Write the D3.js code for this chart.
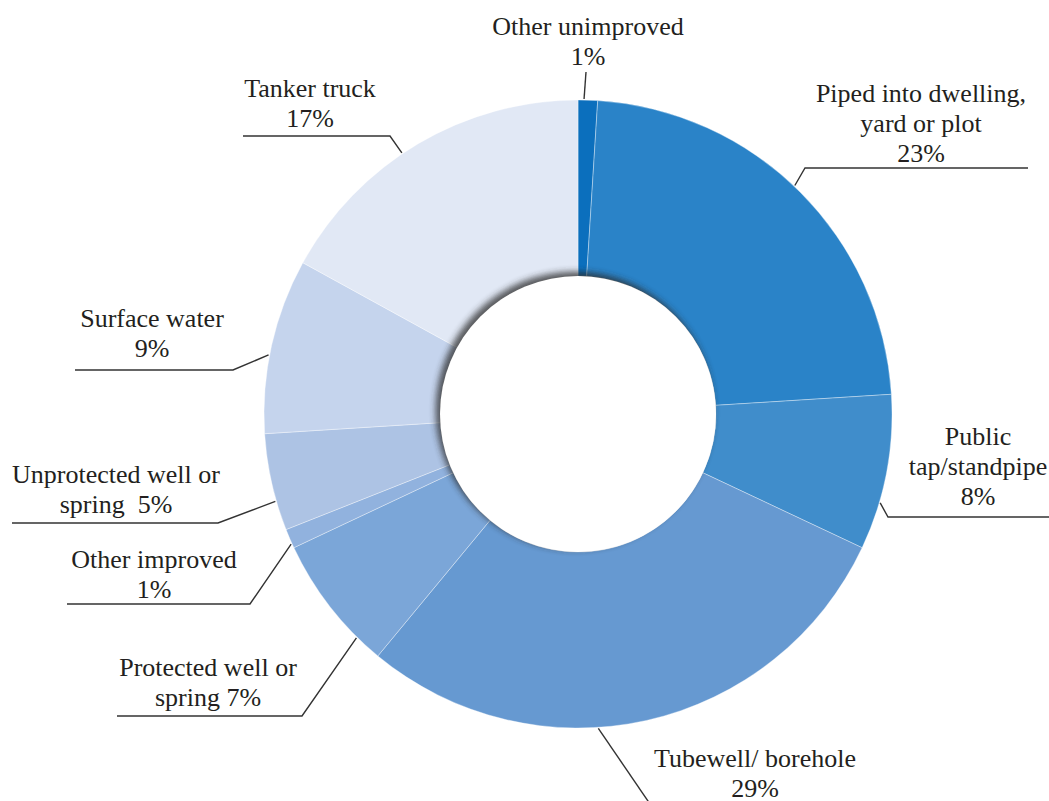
<!DOCTYPE html>
<html>
<head>
<meta charset="utf-8">
<script src="https://cdn.jsdelivr.net/npm/d3@7/dist/d3.min.js"></script>
<style>
  html, body { margin: 0; padding: 0; background: #ffffff; }
  svg { display: block; }
</style>
</head>
<body>
<svg id="chart" width="1049" height="801"></svg>
<script>
// Main source of drinking water (% of households)
const categories = [
  "Other unimproved",
  "Piped into dwelling, yard or plot",
  "Public tap/standpipe",
  "Tubewell/ borehole",
  "Protected well or spring",
  "Other improved",
  "Unprotected well or spring",
  "Surface water",
  "Tanker truck"
];
const values = [1, 23, 8, 29, 7, 1, 5, 9, 17];
const colors = ["#0b6fbd", "#2a83c8", "#408dcb", "#6699d1", "#7ba6d8", "#91b2de", "#adc3e4", "#c5d4ed", "#e1e8f5"];

// Label text, one entry per line; {p} becomes the slice percentage
const labelText = [
  ["Other unimproved", "{p}"],
  ["Piped into dwelling,", "yard or plot", "{p}"],
  ["Public", "tap/standpipe", "{p}"],
  ["Tubewell/ borehole", "{p}"],
  ["Protected well or", "spring {p}"],
  ["Other improved", "{p}"],
  ["Unprotected well or", "spring\u00a0\u00a0{p}"],
  ["Surface water", "{p}"],
  ["Tanker truck", "{p}"]
];

// Label placement: text centre x, first baseline y, leader line (shelf + elbow), anchor angle shift on the rim (deg)
const labelLayout = [
  { x: 588, y: 35,  shelf: null,        elbow: [586, 72],  shift: -0.7 },
  { x: 921, y: 102, shelf: [1028, 168], elbow: [805, 168], shift: -1.5 },
  { x: 978, y: 445, shelf: [1049, 517], elbow: [888, 517], shift: 5.6 },
  { x: 755, y: 767, shelf: null,        elbow: [650, 804], shift: 8.9 },
  { x: 208, y: 676, shelf: [117, 716],  elbow: [302, 716], shift: -7.5 },
  { x: 154, y: 568, shelf: [67, 604],   elbow: [250, 604], shift: -1.0 },
  { x: 116, y: 483, shelf: [12, 523],   elbow: [218, 523], shift: -3.5 },
  { x: 152, y: 327, shelf: [75, 370],   elbow: [233, 370], shift: -1.8 },
  { x: 310, y: 97,  shelf: [243, 136],  elbow: [390, 136], shift: -3.4 }
];

const cx = 578, cy = 414;
const outerR = 314, innerR = 138;
const lineH = 30;
const fontStack = "'Liberation Serif', 'Times New Roman', serif";

const svg = d3.select("#chart");

const defs = svg.append("defs");
const blur = defs.append("filter").attr("id", "holeShadow")
  .attr("x", "-20%").attr("y", "-20%").attr("width", "140%").attr("height", "140%");
blur.append("feGaussianBlur").attr("stdDeviation", 3.2);
defs.append("clipPath").attr("id", "ringClip")
  .append("circle").attr("cx", cx).attr("cy", cy).attr("r", outerR);

const pie = d3.pie().sort(null).value(d => d).startAngle(0).endAngle(2 * Math.PI);
const arcs = pie(values);
const arc = d3.arc().innerRadius(innerR).outerRadius(outerR);

const g = svg.append("g").attr("transform", `translate(${cx},${cy})`);

g.selectAll("path.slice")
  .data(arcs)
  .join("path")
  .attr("class", "slice")
  .attr("d", arc)
  .attr("fill", (d, i) => colors[i])
  .attr("stroke", "rgba(255,255,255,0.45)")
  .attr("stroke-width", 0.8);

// soft shadow around the hole, then the hole itself
const shade = svg.append("g").attr("clip-path", "url(#ringClip)");
shade.append("circle")
  .attr("cx", cx - 3.5).attr("cy", cy - 3.5).attr("r", innerR + 1)
  .attr("fill", "#2b2b2b").attr("opacity", 0.75)
  .attr("filter", "url(#holeShadow)");
svg.append("circle").attr("cx", cx).attr("cy", cy).attr("r", innerR).attr("fill", "#ffffff");

// leader lines
const leaders = svg.append("g")
  .attr("fill", "none").attr("stroke", "#333333").attr("stroke-width", 1.4);

arcs.forEach((a, i) => {
  const L = labelLayout[i];
  const ang = (a.startAngle + a.endAngle) / 2 + L.shift * Math.PI / 180;
  const rim = [cx + (outerR + 1) * Math.sin(ang), cy - (outerR + 1) * Math.cos(ang)];
  const pts = L.shelf ? [L.shelf, L.elbow, rim] : [L.elbow, rim];
  leaders.append("path").attr("d", d3.line()(pts));
});

// labels
const labels = svg.append("g")
  .attr("text-anchor", "middle")
  .attr("font-family", fontStack)
  .attr("font-size", 26)
  .attr("fill", "#231f20");
labelText.forEach((lines, i) => {
  const L = labelLayout[i];
  const t = labels.append("text").attr("x", L.x).attr("y", L.y);
  lines.forEach((s, k) => {
    t.append("tspan")
      .attr("x", L.x)
      .attr("y", L.y + k * lineH)
      .text(s.replace("{p}", values[i] + "%"));
  });
});
</script>
</body>
</html>
